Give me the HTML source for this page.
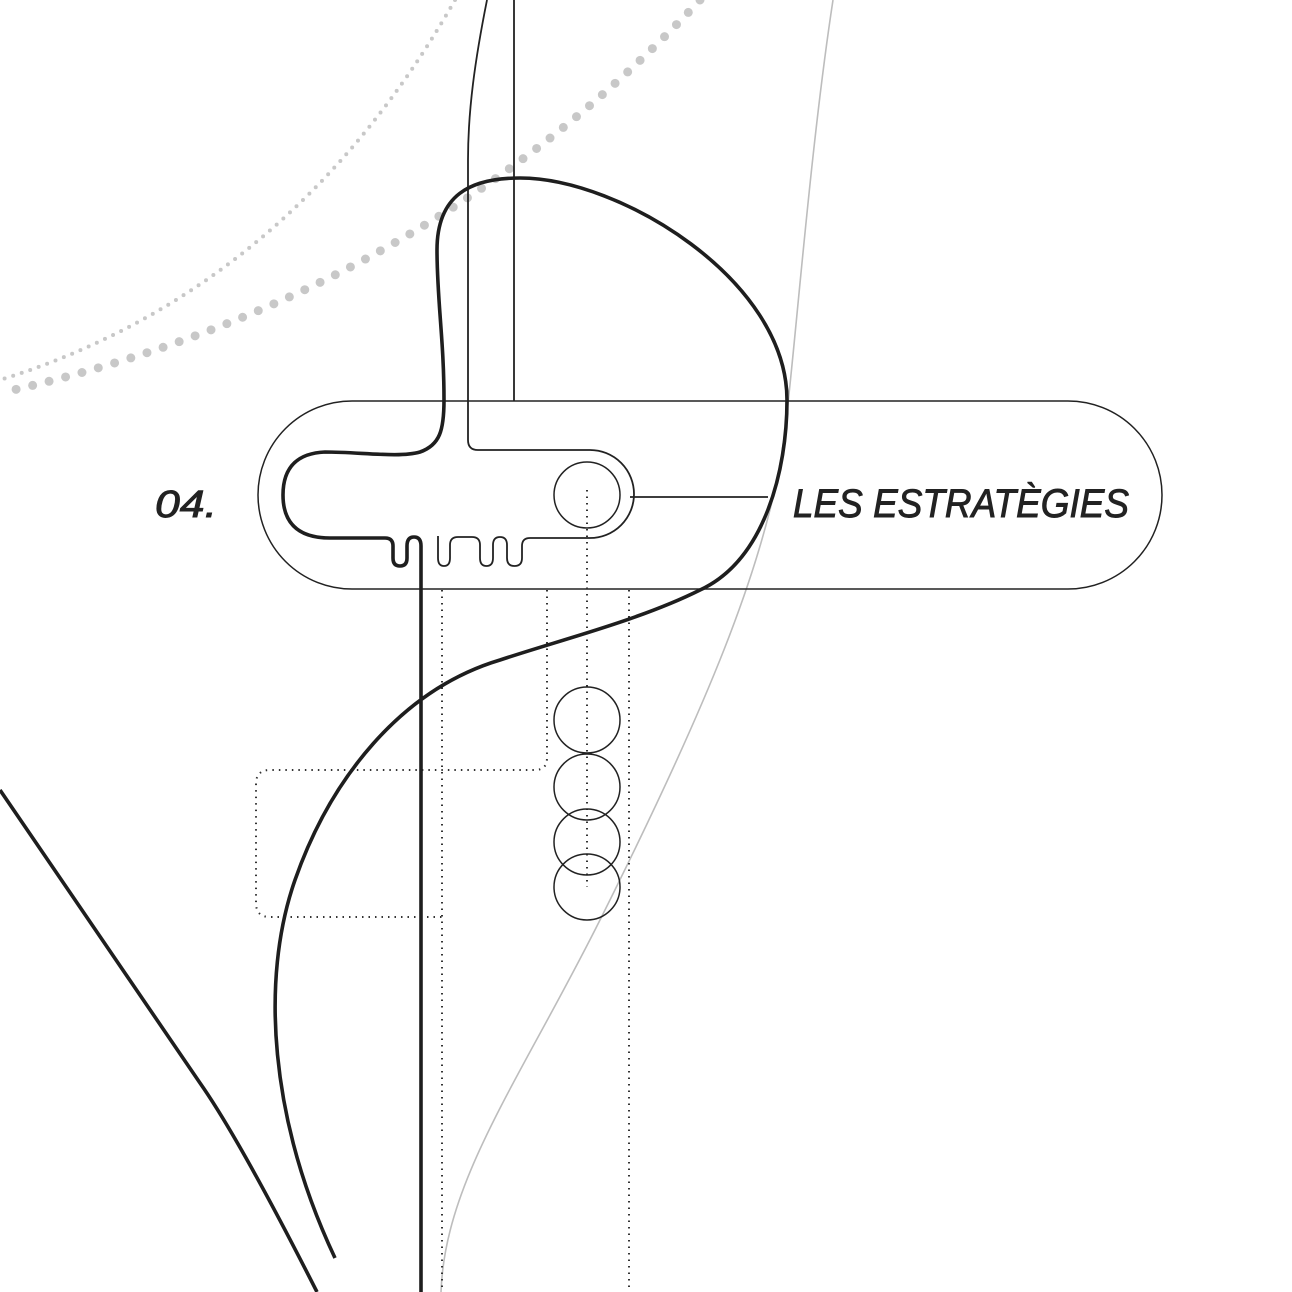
<!DOCTYPE html>
<html><head><meta charset="utf-8"><style>html,body{margin:0;padding:0;background:#fff}svg{display:block}</style></head>
<body>
<svg width="1292" height="1292" viewBox="0 0 1292 1292" xmlns="http://www.w3.org/2000/svg">
<rect width="1292" height="1292" fill="#fff"/>
<path d="M700,0 Q420,300 0,393" fill="none" stroke="#c8c8c8" stroke-width="9" stroke-linecap="round" stroke-dasharray="0 17"/>
<path d="M455,0 Q290,290 0,380" fill="none" stroke="#c8c8c8" stroke-width="4" stroke-linecap="round" stroke-dasharray="0 9"/>
<path d="M833,0 C810,150 795,350 785,430 C770,560 700,720 600,920 C520,1080 445,1180 441,1292" fill="none" stroke="#bdbdbd" stroke-width="1.6"/>
<rect x="258" y="401" width="904" height="188" rx="94" fill="none" stroke="#222" stroke-width="1.5"/>
<g fill="none" stroke="#333" stroke-width="2" stroke-dasharray="1.5 5">
<path d="M442,590 V1292"/>
<path d="M629,590 V1292"/>
<path d="M587,490 V887"/>
<path d="M547,590 V758 Q547,770 535,770 H270 Q256,770 256,784 V903 Q256,917 270,917 H442"/>
</g>
<g fill="none" stroke="#222" stroke-width="1.5">
<circle cx="587" cy="495" r="33"/>
<circle cx="587" cy="720" r="33"/>
<circle cx="587" cy="787" r="33"/>
<circle cx="587" cy="842" r="33"/>
<circle cx="587" cy="887" r="33"/>
</g>
<g fill="none" stroke="#222" stroke-width="1.8">
<path d="M514,0 V401"/>
<path d="M487,0 C475,60 468,110 468,160 L468,440 Q468,450 478,450 L590,450 A44,44 0 0 1 590,538 L530,538 Q522,538 522,546 L522,558 Q522,566 514.5,566 Q507,566 507,558 L507,545 Q507,537 500,537 Q493,537 493,545 L493,558 Q493,566 486.5,566 Q480,566 480,558 L480,545 Q480,537 472,537 L458,537 Q450,537 450,545 L450,558 Q450,566 444,566 Q438,566 438,558 L438,536"/>
<path d="M630,497 H768"/>
</g>
<g fill="none" stroke="#1e1e1e" stroke-width="3.6">
<path d="M421,1292 L421,546 Q421,537 414,537 Q407,537 407,546 L407,558 Q407,566 400,566 Q393,566 393,558 L393,546 Q393,538 385,538 L330,538 C295,538 283,520 283,495 C283,465 300,453 325,452 C360,452 400,458 420,452 C440,445 444,430 444,400 C444,340 437,300 437,250 C437,195 470,178 520,178 C620,178 787,280 787,400 C787,470 765,560 700,590 C640,620 560,640 500,660 C400,690 330,780 295,880 C260,980 270,1120 335,1258"/>
<path d="M0,790 L200,1083 Q240,1140 317,1292"/>
</g>
<text x="155" y="517" font-family="Liberation Sans, sans-serif" font-style="italic" font-size="38" fill="#222" stroke="#222" stroke-width="0.9" textLength="62" lengthAdjust="spacingAndGlyphs">04.</text>
<text x="793" y="517" font-family="Liberation Sans, sans-serif" font-style="italic" font-size="40" fill="#222" stroke="#222" stroke-width="0.9" textLength="336" lengthAdjust="spacingAndGlyphs">LES ESTRATÈGIES</text>
</svg>
</body></html>
